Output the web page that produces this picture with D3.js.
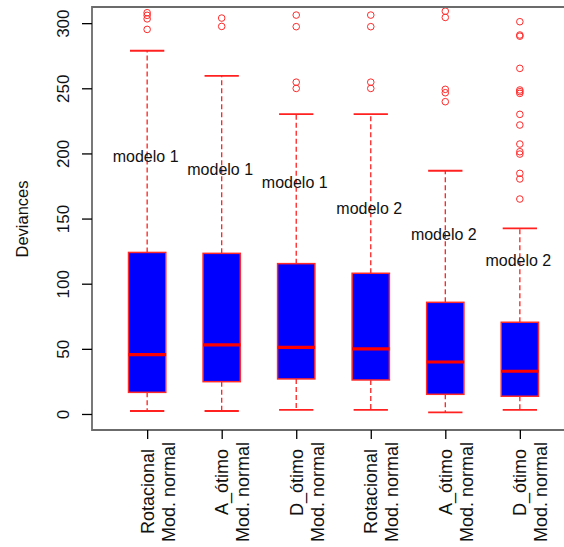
<!DOCTYPE html>
<html>
<head>
<meta charset="utf-8">
<script src="https://cdn.jsdelivr.net/npm/d3@7"></script>
<style>
  body { margin: 0; background: #fff; }
  svg { display: block; font-family: "Liberation Sans", Arial, sans-serif; }
</style>
</head>
<body>
<div id="chart"></div>
<script>
const width = 564;
const height = 547;

// data
const design = ["Rotacional", "A_ótimo", "D_ótimo", "Rotacional", "A_ótimo", "D_ótimo"];
const family = ["Mod. normal", "Mod. normal", "Mod. normal", "Mod. normal", "Mod. normal", "Mod. normal"];
const modelText = ["modelo 1", "modelo 1", "modelo 1", "modelo 2", "modelo 2", "modelo 2"];
const modelTextY = [198, 188, 178, 158, 138, 118];

const whiskerLow = [2.3, 2.3, 3.1, 3.1, 1.3, 3.1];
const q1 = [16.6, 24.8, 26.9, 26.1, 15.1, 13.6];
const median = [45.5, 53.0, 51.2, 49.9, 39.9, 32.8];
const q3 = [124.0, 123.3, 115.4, 108.0, 85.7, 70.4];
const whiskerHigh = [278.8, 259.6, 230.2, 230.2, 186.7, 142.5];
const outliers = [
  [295.2, 303.3, 306.0, 308.0],
  [297.5, 303.9],
  [249.9, 254.7, 297.3, 306.2],
  [249.9, 254.7, 297.3, 306.2],
  [239.7, 246.6, 249.2, 304.4, 309.2],
  [165.0, 180.4, 184.7, 199.5, 201.3, 207.2, 221.8, 230.0, 246.1, 247.4, 248.7, 265.3, 290.0, 290.9, 301.1]
];
const yTicks = [0, 50, 100, 150, 200, 250, 300];

const boxes = design.map((d, i) => ({
  pos: i + 1,
  design: d,
  family: family[i],
  label: modelText[i],
  labelY: modelTextY[i],
  lo: whiskerLow[i], q1: q1[i], med: median[i], q3: q3[i], hi: whiskerHigh[i],
  out: outliers[i]
}));

const plotLeft = 92, plotTop = 7, plotBottom = 430;

const x = d3.scaleLinear().domain([0.26, 6.74]).range([plotLeft, 575]);
const y = d3.scaleLinear().domain([-12.3, 312.4]).range([plotBottom, plotTop]);

const boxHalf = x(1.25) - x(1);
const stapleHalf = x(1.23) - x(1);

const svg = d3.select("#chart").append("svg")
  .attr("width", width)
  .attr("height", height)
  .attr("viewBox", [0, 0, width, height]);

const g = svg.append("g").selectAll("g")
  .data(boxes)
  .join("g");

// whiskers
g.append("line")
  .attr("x1", d => x(d.pos)).attr("x2", d => x(d.pos))
  .attr("y1", d => y(d.q3)).attr("y2", d => y(d.hi))
  .attr("stroke", "#ff2020").attr("stroke-width", 1.3).attr("stroke-dasharray", "5,3");
g.append("line")
  .attr("x1", d => x(d.pos)).attr("x2", d => x(d.pos))
  .attr("y1", d => y(d.q1)).attr("y2", d => y(d.lo))
  .attr("stroke", "#ff2020").attr("stroke-width", 1.3).attr("stroke-dasharray", "5,3");

// staples
g.selectAll(".staple")
  .data(d => [d.lo, d.hi].map(v => ({pos: d.pos, v})))
  .join("line")
  .attr("x1", d => x(d.pos) - stapleHalf).attr("x2", d => x(d.pos) + stapleHalf)
  .attr("y1", d => y(d.v)).attr("y2", d => y(d.v))
  .attr("stroke", "#ff2020").attr("stroke-width", 1.8);

// boxes
g.append("rect")
  .attr("x", d => x(d.pos) - boxHalf)
  .attr("width", boxHalf * 2)
  .attr("y", d => y(d.q3))
  .attr("height", d => y(d.q1) - y(d.q3))
  .attr("fill", "#0000ff")
  .attr("stroke", "#ff2a2a").attr("stroke-width", 1.5);

// medians
g.append("line")
  .attr("x1", d => x(d.pos) - boxHalf).attr("x2", d => x(d.pos) + boxHalf)
  .attr("y1", d => y(d.med)).attr("y2", d => y(d.med))
  .attr("stroke", "#ff0000").attr("stroke-width", 3.2);

// outliers
g.selectAll("circle")
  .data(d => d.out.map(v => ({pos: d.pos, v})))
  .join("circle")
  .attr("cx", d => x(d.pos)).attr("cy", d => y(d.v)).attr("r", 3.3)
  .attr("fill", "none").attr("stroke", "#ff2a2a").attr("stroke-width", 1);

// model labels
g.append("text")
  .attr("x", d => x(d.pos) - 1.5).attr("y", d => y(d.labelY))
  .attr("dy", "0.35em")
  .attr("text-anchor", "middle")
  .attr("font-size", 16)
  .attr("fill", "#111")
  .text(d => d.label);

// frame
svg.append("path")
  .attr("d", `M${width + 5},${plotTop}H${plotLeft}V${plotBottom}H${width + 5}`)
  .attr("fill", "none").attr("stroke", "#6b6b6b").attr("stroke-width", 1.8);

// y axis
const yAxis = svg.append("g")
  .attr("transform", `translate(${plotLeft},0)`)
  .call(d3.axisLeft(y).tickValues(yTicks).tickSize(10).tickFormat(d3.format("d")))
  .call(a => a.select(".domain").remove());
yAxis.selectAll(".tick line").attr("stroke", "#000").attr("stroke-width", 1.3);
yAxis.selectAll(".tick text")
  .attr("font-size", 17)
  .attr("fill", "#111")
  .attr("x", null).attr("dy", null)
  .attr("text-anchor", "middle")
  .attr("transform", "translate(-23,0) rotate(-90)")
  .attr("y", 0);

// x axis
const xAxis = svg.append("g")
  .attr("transform", `translate(0,${plotBottom})`)
  .call(d3.axisBottom(x).tickValues(boxes.map(d => d.pos)).tickSize(9).tickFormat(""))
  .call(a => a.select(".domain").remove());
xAxis.selectAll(".tick line").attr("stroke", "#000").attr("stroke-width", 1.3);

const xl = svg.append("g").selectAll("g")
  .data(boxes)
  .join("g")
  .attr("font-size", 18)
  .attr("fill", "#111")
  .attr("text-anchor", "end");
xl.append("text")
  .attr("transform", d => `translate(${x(d.pos) + 6.5},449) rotate(-90)`)
  .text(d => d.design);
xl.append("text")
  .attr("transform", d => `translate(${x(d.pos) + 27.5},442) rotate(-90)`)
  .text(d => d.family);

// y title
svg.append("text")
  .attr("transform", "translate(28,219) rotate(-90)")
  .attr("text-anchor", "middle")
  .attr("font-size", 16.5)
  .attr("fill", "#111")
  .text("Deviances");
</script>
</body>
</html>
